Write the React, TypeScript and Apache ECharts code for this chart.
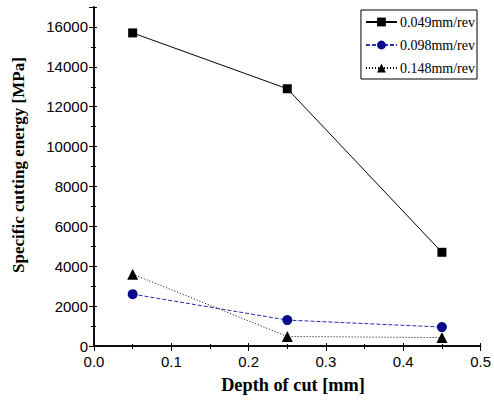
import React, { useEffect, useRef } from "react";
import * as echarts from "echarts";

const depths = [0.05, 0.25, 0.45];
const seriesNames = ["0.049mm/rev", "0.098mm/rev", "0.148mm/rev"];
const feed049 = [15700, 12900, 4700];
const feed098 = [2600, 1300, 950];
const feed148 = [3600, 480, 420];
const xTicks = [0.0, 0.1, 0.2, 0.3, 0.4, 0.5];
const xTitle = "Depth of cut [mm]";
const yTitle = "Specific cutting energy [MPa]";

export default function App() {
  const ref = useRef<HTMLDivElement>(null);
  useEffect(() => {
    const chart = echarts.init(ref.current!, null, { renderer: "svg" });
    const pair = (vals: number[]) => depths.map((d, i) => [d, vals[i]]);
    const axisLine = { show: true, lineStyle: { color: "#000", width: 1.5 } };
    const tickStyle = { color: "#000", width: 1 };
    const titleStyle = { fontFamily: "Liberation Serif", fontWeight: "bold", fill: "#000", align: "center", verticalAlign: "middle" };
    chart.setOption({
      animation: false,
      backgroundColor: "#fff",
      grid: { left: 94, top: 7, right: 12, bottom: 57, containLabel: false },
      legend: {
        right: 17,
        top: 10,
        orient: "vertical",
        itemWidth: 31,
        itemHeight: 11,
        itemGap: 9,
        padding: [5, 2, 4, 4],
        borderColor: "#000",
        borderWidth: 1,
        backgroundColor: "#fff",
        textStyle: { fontFamily: "Liberation Serif", fontSize: 14, color: "#000", padding: [0, 0, 0, -2] },
        data: seriesNames,
      },
      graphic: [
        {
          type: "text",
          x: 18,
          y: 165,
          rotation: Math.PI / 2,
          style: { ...titleStyle, text: yTitle, fontSize: 17 },
        },
        {
          type: "text",
          x: 293,
          y: 385,
          style: { ...titleStyle, text: xTitle, fontSize: 18.3 },
        },
      ],
      xAxis: [
        {
          type: "value",
          min: 0,
          max: 0.5,
          interval: 0.1,
          axisLine,
          axisTick: { show: true, length: 5, lineStyle: tickStyle },
          minorTick: { show: true, splitNumber: 2, length: 3, lineStyle: tickStyle },
          splitLine: { show: false },
          axisLabel: {
            fontFamily: "Liberation Sans",
            fontSize: 15,
            color: "#000",
            margin: 8,
            formatter: (v: number) => {
              const t = xTicks.find((x) => Math.abs(x - v) < 1e-9);
              return (t ?? v).toFixed(1);
            },
          },
        },
        {
          type: "value",
          position: "top",
          min: 0,
          max: 0.5,
          interval: 0.1,
          axisLine,
          axisTick: { show: true, length: 3, lineStyle: tickStyle },
          minorTick: { show: true, splitNumber: 2, length: 2, lineStyle: tickStyle },
          splitLine: { show: false },
          axisLabel: { show: false },
        },
      ],
      yAxis: [
        {
          type: "value",
          min: 0,
          max: 17000,
          interval: 2000,
          axisLine,
          axisTick: { show: true, length: 5, lineStyle: tickStyle },
          minorTick: { show: true, splitNumber: 2, length: 3, lineStyle: tickStyle },
          splitLine: { show: false },
          axisLabel: {
            fontFamily: "Liberation Sans",
            fontSize: 15,
            color: "#000",
            margin: 6,
            showMaxLabel: false,
            formatter: (v: number) => String(v),
          },
        },
        {
          type: "value",
          position: "right",
          min: 0,
          max: 17000,
          interval: 2000,
          axisLine,
          axisTick: { show: true, length: 3, lineStyle: tickStyle },
          minorTick: { show: true, splitNumber: 2, length: 2, lineStyle: tickStyle },
          splitLine: { show: false },
          axisLabel: { show: false },
        },
      ],
      series: [
        {
          name: seriesNames[0],
          type: "line",
          data: pair(feed049),
          symbol: "rect",
          symbolSize: 9,
          itemStyle: { color: "#000" },
          lineStyle: { color: "#000", width: 1, type: "solid" },
        },
        {
          name: seriesNames[1],
          type: "line",
          data: pair(feed098),
          symbol: "circle",
          symbolSize: 10,
          itemStyle: { color: "#0a0a8a" },
          lineStyle: { color: "#2a2ab0", width: 1, type: [4, 2] },
        },
        {
          name: seriesNames[2],
          type: "line",
          data: pair(feed148),
          symbol: "triangle",
          symbolSize: 11,
          itemStyle: { color: "#000" },
          lineStyle: { color: "#000", width: 1, type: [1, 2] },
        },
      ],
    });
    return () => chart.dispose();
  }, []);
  return <div ref={ref} style={{ width: 494, height: 403, position: "absolute", left: 0, top: 0 }} />;
}
